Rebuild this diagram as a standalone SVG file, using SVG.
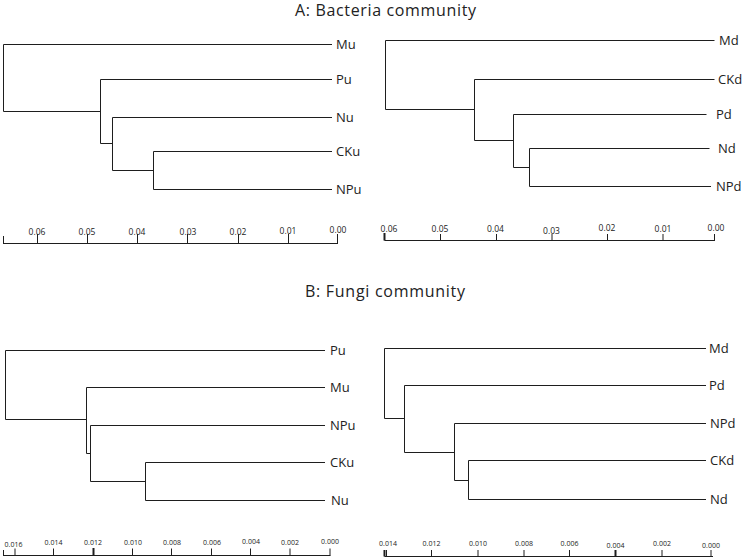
<svg xmlns="http://www.w3.org/2000/svg" width="746" height="559" viewBox="0 0 746 559">
<style>
.br{fill:none;stroke:#1e1e1e;stroke-width:1}
.ax{fill:none;stroke:#1e1e1e;stroke-width:1}
.lab{font-family:"Open Sans","Liberation Sans",sans-serif;font-size:13px;fill:#222}
.tl{font-family:"Open Sans","Liberation Sans",sans-serif;fill:#222;font-size:16px}
.tk{font-family:"Open Sans","Liberation Sans",sans-serif;font-size:8.5px;fill:#222;text-anchor:middle}
.tk2{font-family:"Open Sans","Liberation Sans",sans-serif;font-size:7px;fill:#222;text-anchor:middle}
</style>
<rect width="746" height="559" fill="#fff"/>
<text class="tl" x="295" y="16" textLength="181">A: Bacteria community</text>
<text class="tl" x="305" y="297" textLength="160">B: Fungi community</text>

<g id="connectors">
<path class="br" d="M332,44.5 H3.5 V111.5 H100.5"/>
<path class="br" d="M332,79.5 H100.5 V143.5 H112.5"/>
<path class="br" d="M332,117.5 H112.5 V170.5 H153.5"/>
<path class="br" d="M332,151.5 H153.5 V189.5 H332"/>

<path class="br" d="M714.5,40.5 H385.5 V109.5 H474.5"/>
<path class="br" d="M714.5,79.5 H474.5 V140.5 H513.5"/>
<path class="br" d="M706.5,114.5 H513.5 V167.5 H529.5"/>
<path class="br" d="M709.5,148.5 H529.5 V186.5 H711"/>

<path class="br" d="M325,350.5 H5.5 V419.5 H86.5"/>
<path class="br" d="M325,387.5 H86.5 V453.5 H90.5"/>
<path class="br" d="M325,425.5 H90.5 V481.5 H145.5"/>
<path class="br" d="M325,462.5 H145.5 V500.5 H325"/>

<path class="br" d="M706,348.5 H384.5 V418.5 H404.5"/>
<path class="br" d="M706,385.5 H404.5 V452.5 H454.5"/>
<path class="br" d="M706,423.5 H454.5 V480.5 H468.5"/>
<path class="br" d="M706,460.5 H468.5 V499.5 H706"/>
</g>

<g id="leaf-A-Mu"><text class="lab" x="336" y="49">Mu</text></g>
<g id="leaf-A-Pu"><text class="lab" x="336" y="84">Pu</text></g>
<g id="leaf-A-Nu"><text class="lab" x="336" y="122">Nu</text></g>
<g id="leaf-A-CKu"><text class="lab" x="336" y="156">CKu</text></g>
<g id="leaf-A-NPu"><text class="lab" x="336" y="194">NPu</text></g>

<g id="leaf-A-Md"><text class="lab" x="719" y="45">Md</text></g>
<g id="leaf-A-CKd"><text class="lab" x="718" y="84">CKd</text></g>
<g id="leaf-A-Pd"><text class="lab" x="716" y="119">Pd</text></g>
<g id="leaf-A-Nd"><text class="lab" x="718" y="153">Nd</text></g>
<g id="leaf-A-NPd"><text class="lab" x="716" y="191">NPd</text></g>

<g id="leaf-B-Pu"><text class="lab" x="330" y="355">Pu</text></g>
<g id="leaf-B-Mu"><text class="lab" x="330" y="392">Mu</text></g>
<g id="leaf-B-NPu"><text class="lab" x="330" y="430">NPu</text></g>
<g id="leaf-B-CKu"><text class="lab" x="330" y="467">CKu</text></g>
<g id="leaf-B-Nu"><text class="lab" x="331" y="505">Nu</text></g>

<g id="leaf-B-Md"><text class="lab" x="709" y="353">Md</text></g>
<g id="leaf-B-Pd"><text class="lab" x="709" y="390">Pd</text></g>
<g id="leaf-B-NPd"><text class="lab" x="710" y="428">NPd</text></g>
<g id="leaf-B-CKd"><text class="lab" x="710" y="465">CKd</text></g>
<g id="leaf-B-Nd"><text class="lab" x="710" y="504">Nd</text></g>

<g id="axis-A-left">
<path class="ax" d="M3,243.5 H338 M3.5,236 V243.5 M37.5,234 V243.5 M87.5,234 V243.5 M137.5,234 V243.5 M187.5,234 V243.5 M238.5,234 V243.5 M288.5,234 V243.5 M337.5,234 V243.5"/>
<text class="tk" x="37" y="235">0.06</text>
<text class="tk" x="87" y="235">0.05</text>
<text class="tk" x="137" y="235">0.04</text>
<text class="tk" x="188" y="235">0.03</text>
<text class="tk" x="238" y="235">0.02</text>
<text class="tk" x="288" y="234">0.01</text>
<text class="tk" x="338" y="233">0.00</text>
</g>

<g id="axis-A-right">
<path class="ax" d="M384.5,240.5 H715 M440.5,234 V240.5 M496.5,234 V240.5 M552,234 V240.5 M607.5,234 V240.5 M663,234 V240.5 M714.5,234 V240.5"/>
<path d="M384.5,233 V240.5" stroke="#1e1e1e" stroke-width="2"/>
<text class="tk" x="389" y="232">0.06</text>
<text class="tk" x="440" y="231.5">0.05</text>
<text class="tk" x="495.5" y="231.5">0.04</text>
<text class="tk" x="551.5" y="233.5">0.03</text>
<text class="tk" x="607" y="230.5">0.02</text>
<text class="tk" x="663" y="232">0.01</text>
<text class="tk" x="716" y="231">0.00</text>
</g>

<g id="axis-B-left">
<path class="ax" d="M3,555.5 H330.5 M3.5,550 V555.5 M15,548.5 V555.5 M53.5,548.5 V555.5 M132.5,548.5 V555.5 M171.5,548.5 V555.5 M211.5,548.5 V555.5 M250.5,548.5 V555.5 M290,548.5 V555.5 M330,548.5 V555.5"/>
<path d="M93.5,548 V555.5" stroke="#1e1e1e" stroke-width="2"/>
<text class="tk2" x="13.5" y="546.5">0.016</text>
<text class="tk2" x="53.5" y="545">0.014</text>
<text class="tk2" x="93" y="545">0.012</text>
<text class="tk2" x="133" y="545">0.010</text>
<text class="tk2" x="172" y="545">0.008</text>
<text class="tk2" x="212" y="545">0.006</text>
<text class="tk2" x="251" y="544">0.004</text>
<text class="tk2" x="290" y="545">0.002</text>
<text class="tk2" x="330" y="544">0.000</text>
</g>

<g id="axis-B-right">
<path class="ax" d="M384.5,556.5 H713 M386.5,550 V556.5 M431.5,550 V556.5 M478,550 V556.5 M524,550 V556.5 M569.5,550 V556.5 M662,550 V556.5 M711,550 V556.5"/>
<path d="M384.5,550 V556.5 M615.5,550 V556.5" stroke="#1e1e1e" stroke-width="2"/>
<text class="tk2" x="388" y="546">0.014</text>
<text class="tk2" x="431.5" y="545.5">0.012</text>
<text class="tk2" x="478" y="545.5">0.010</text>
<text class="tk2" x="524" y="545.5">0.008</text>
<text class="tk2" x="569.5" y="545.5">0.006</text>
<text class="tk2" x="615.5" y="548">0.004</text>
<text class="tk2" x="662" y="546">0.002</text>
<text class="tk2" x="711" y="548">0.000</text>
</g>
</svg>
